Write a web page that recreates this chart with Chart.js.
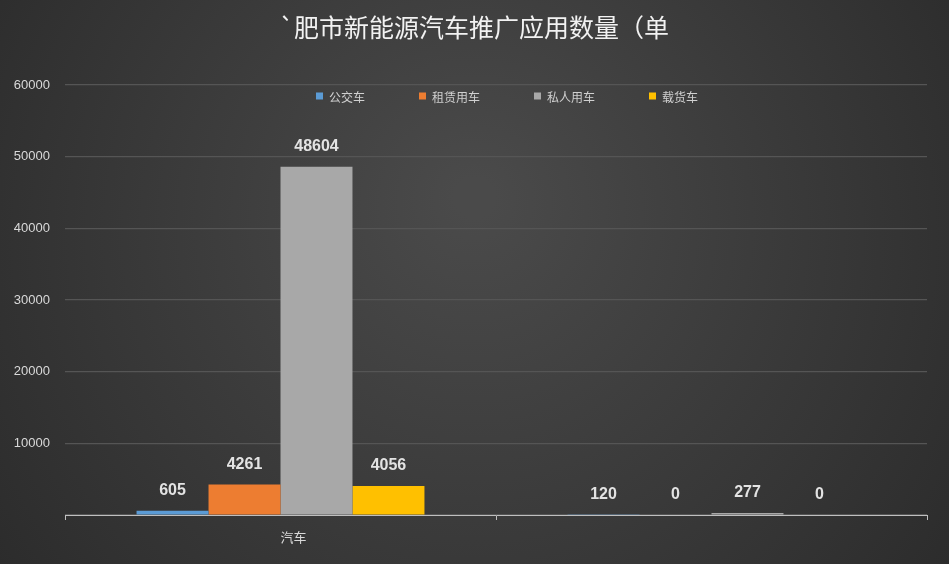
<!DOCTYPE html>
<html>
<head>
<meta charset="utf-8">
<script src="https://cdn.jsdelivr.net/npm/chart.js@4.4.1/dist/chart.umd.min.js"></script>
<style>
html,body{margin:0;padding:0;background:#2e2e2e;}
#wrap{width:949px;height:564px;position:relative;}
</style>
</head>
<body>
<div id="wrap"><canvas id="c" width="949" height="564"></canvas></div>
<script>
const titleText = '`肥市新能源汽车推广应用数量（单';
const categories = ['　　汽车', ''];
const seriesNames = ['公交车', '租赁用车', '私人用车', '载货车'];
const busValues = [605, 120];
const rentalValues = [4261, 0];
const privateValues = [48604, 277];
const truckValues = [4056, 0];
const yTicks = [0, 10000, 20000, 30000, 40000, 50000, 60000];
const seriesColors = ['#5b9bd5', '#ed7d31', '#a8a8a8', '#ffc000'];

const bgPlugin = {
  id: 'bg',
  beforeDraw(chart) {
    const ctx = chart.ctx, w = chart.width, h = chart.height;
    ctx.save();
    const g = ctx.createRadialGradient(w * 0.5, h * 0.35, 20, w * 0.5, h * 0.45, w * 0.62);
    g.addColorStop(0, '#4a4a4a');
    g.addColorStop(1, '#2b2b2b');
    ctx.fillStyle = g;
    ctx.fillRect(0, 0, w, h);
    ctx.restore();
  }
};

const titlePlugin = {
  id: 'titleLegend',
  afterDraw(chart) {
    const ctx = chart.ctx;
    ctx.save();
    ctx.fillStyle = '#f2f2f2';
    ctx.font = '25px "Noto Sans CJK SC"';
    ctx.textAlign = 'center';
    ctx.textBaseline = 'middle';
    ctx.fillText(titleText, 474, 27);
    // legend
    ctx.font = '12px "Noto Sans CJK SC"';
    ctx.textAlign = 'left';
    const gap = 54, box = 7, boxGap = 6;
    const widths = chart.data.datasets.map(d => box + boxGap + ctx.measureText(d.label).width);
    const total = widths.reduce((a, b) => a + b, 0) + gap * (widths.length - 1);
    let x = 507 - total / 2;
    const y = 96;
    chart.data.datasets.forEach((d, i) => {
      ctx.fillStyle = d.backgroundColor;
      ctx.fillRect(x, y - box / 2, box, box);
      ctx.fillStyle = '#d0d0d0';
      ctx.fillText(d.label, x + box + boxGap, y + 1);
      x += widths[i] + gap;
    });
    // value labels
    ctx.font = 'bold 16px "Liberation Sans"';
    ctx.textAlign = 'center';
    ctx.fillStyle = '#e3e3e3';
    chart.data.datasets.forEach((d, i) => {
      const meta = chart.getDatasetMeta(i);
      meta.data.forEach((el, j) => {
        ctx.fillText(String(d.data[j]), el.x, el.y - 20);
      });
    });
    ctx.restore();
  }
};

const valueSets = [busValues, rentalValues, privateValues, truckValues];

new Chart(document.getElementById('c'), {
  type: 'bar',
  data: {
    labels: categories,
    datasets: seriesNames.map((n, i) => ({
      label: n,
      data: valueSets[i],
      backgroundColor: seriesColors[i],
      borderWidth: 0,
      categoryPercentage: 0.668,
      barPercentage: 1.0
    }))
  },
  options: {
    responsive: false,
    animation: false,
    devicePixelRatio: 1,
    layout: { padding: { top: 85, right: 22, left: 0, bottom: 0 } },
    plugins: {
      legend: { display: false },
      title: { display: false },
      tooltip: { enabled: false }
    },
    scales: {
      x: {
        grid: { offset: true, drawOnChartArea: false, drawTicks: true, tickLength: 5, color: '#bfbfbf' },
        border: { color: '#bfbfbf', width: 1 },
        ticks: { color: '#d9d9d9', font: { size: 13, family: '"Noto Sans CJK SC"' }, padding: 9 },
        afterFit(s) { s.height = 49; }
      },
      y: {
        min: 0, max: 60000,
        afterBuildTicks(s) { s.ticks = yTicks.map(v => ({ value: v })); },
        grid: { color: '#555555', drawTicks: false, lineWidth: 1.2 },
        border: { display: false },
        ticks: { color: '#d9d9d9', font: { size: 13, family: '"Liberation Sans"' }, padding: 15,
          callback: v => v === 0 ? '' : String(v) },
        afterFit(s) { s.width = 65; }
      }
    }
  },
  plugins: [bgPlugin, titlePlugin]
});
</script>
</body>
</html>
